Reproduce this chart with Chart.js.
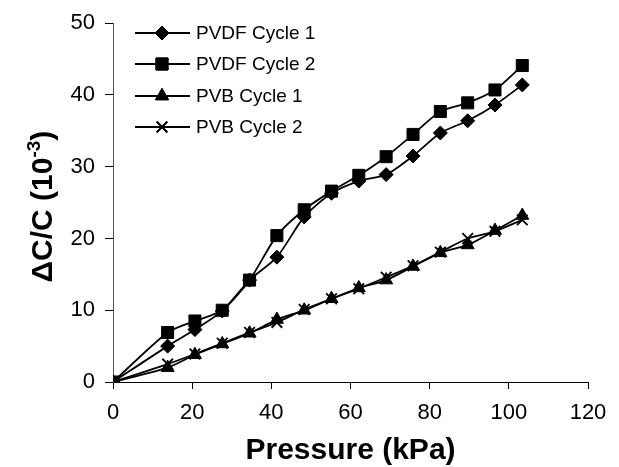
<!DOCTYPE html>
<html>
<head>
<meta charset="utf-8">
<script src="https://cdn.jsdelivr.net/npm/chart.js"></script>
<style>
  html, body { margin: 0; padding: 0; background: #fff; }
  #wrap { width: 619px; height: 467px; }
</style>
</head>
<body>
<div id="wrap"><canvas id="myChart" width="619" height="467"></canvas></div>
<script>
// pressure steps (kPa), 2..15 psi
const pressure = [0, 13.8, 20.7, 27.6, 34.5, 41.4, 48.3, 55.2, 62.1, 69.0, 75.8, 82.7, 89.6, 96.5, 103.4];
const pvdfCycle1 = [0, 5.0, 7.3, 9.9, 14.2, 17.4, 23.0, 26.3, 28.0, 28.9, 31.5, 34.7, 36.4, 38.6, 41.4];
const pvdfCycle2 = [0, 6.9, 8.5, 10.0, 14.2, 20.4, 24.0, 26.6, 28.8, 31.4, 34.5, 37.7, 38.9, 40.7, 44.1];
const pvbCycle1 = [0, 2.0, 3.8, 5.3, 6.8, 8.7, 10.0, 11.6, 13.1, 14.2, 16.1, 18.0, 19.1, 21.1, 23.2];
const pvbCycle2 = [0, 2.5, 3.9, 5.4, 6.9, 8.3, 10.1, 11.6, 13.0, 14.6, 16.2, 18.1, 20.0, 21.0, 22.6];
const seriesNames = ["PVDF Cycle 1", "PVDF Cycle 2", "PVB Cycle 1", "PVB Cycle 2"];
const xTitle = "Pressure (kPa)";
const yTitle = ["\u0394C/C (10", "-3", ")"];

const FONT = "Arial, 'Liberation Sans', sans-serif";

function toPoints(ys) {
	return ys.map((y, i) => ({ x: pressure[i], y: y }));
}

function makeSet(label, ys, style, radius) {
	return {
		label: label,
		data: toPoints(ys),
		borderColor: "#000",
		backgroundColor: "#000",
		borderWidth: 1.8,
		pointStyle: style,
		pointRadius: radius,
		pointBorderWidth: style === "crossRot" ? 1.8 : 1,
		pointBorderColor: "#000",
		pointBackgroundColor: "#000",
		tension: 0.25,
		fill: false
	};
}

// titles + legend drawn by hand (superscript, legend inside the plot)
const extras = {
	id: "extras",
	afterDraw(chart) {
		const ctx = chart.ctx;
		const area = chart.chartArea;
		ctx.save();
		ctx.fillStyle = "#000";

		// x title
		ctx.font = "bold 30px " + FONT;
		ctx.textAlign = "center";
		ctx.textBaseline = "middle";
		ctx.fillText(xTitle, (area.left + area.right) / 2, 451);

		// y title, rotated, with superscript
		ctx.save();
		ctx.translate(41, (area.top + area.bottom) / 2 + 4);
		ctx.rotate(-Math.PI / 2);
		ctx.textAlign = "left";
		ctx.textBaseline = "alphabetic";
		const big = "bold 30px " + FONT, small = "bold 19px " + FONT;
		ctx.font = big;
		const w0 = ctx.measureText(yTitle[0]).width;
		const w2 = ctx.measureText(yTitle[2]).width;
		ctx.font = small;
		const w1 = ctx.measureText(yTitle[1]).width;
		let x = -(w0 + w1 + w2) / 2;
		const base = 11;
		ctx.font = big;
		ctx.fillText(yTitle[0], x, base);
		x += w0;
		ctx.font = small;
		ctx.fillText(yTitle[1], x, base - 12);
		x += w1;
		ctx.font = big;
		ctx.fillText(yTitle[2], x, base);
		ctx.restore();

		// legend
		const rows = [33, 64, 96, 127];
		ctx.font = "19px " + FONT;
		ctx.textAlign = "left";
		ctx.textBaseline = "middle";
		chart.data.datasets.forEach((ds, i) => {
			const y = rows[i];
			ctx.strokeStyle = "#000";
			ctx.lineWidth = 1.8;
			ctx.beginPath();
			ctx.moveTo(135, y);
			ctx.lineTo(190, y);
			ctx.stroke();
			ctx.lineWidth = ds.pointBorderWidth;
			Chart.helpers.drawPoint(ctx, { pointStyle: ds.pointStyle, radius: ds.pointRadius, rotation: 0, borderWidth: ds.pointBorderWidth }, 162, y);
			ctx.fill();
			ctx.stroke();
			ctx.fillText(ds.label, 196, y + 1);
		});
		ctx.restore();
	}
};

const myChart = new Chart(document.getElementById("myChart").getContext("2d"), {
	type: "line",
	data: {
		datasets: [
			makeSet(seriesNames[0], pvdfCycle1, "rectRot", 7),
			makeSet(seriesNames[1], pvdfCycle2, "rect", 8.5),
			makeSet(seriesNames[2], pvbCycle1, "triangle", 7.5),
			makeSet(seriesNames[3], pvbCycle2, "crossRot", 7.5)
		]
	},
	options: {
		responsive: false,
		animation: false,
		layout: { padding: { top: 20, right: 31, left: 0, bottom: 0 } },
		plugins: { legend: { display: false }, tooltip: { enabled: false } },
		scales: {
			x: {
				type: "linear",
				min: 0,
				max: 120,
				ticks: { stepSize: 20, color: "#000", font: { family: FONT, size: 22 }, padding: 11, maxRotation: 0 },
				grid: { drawOnChartArea: false, tickLength: 7, color: "#000" },
				border: { color: "#000", width: 1 },
				afterFit(scale) { scale.height = 85; }
			},
			y: {
				min: 0,
				max: 50,
				ticks: { stepSize: 10, color: "#000", font: { family: FONT, size: 22 }, padding: 10 },
				grid: { drawOnChartArea: false, tickLength: 8, color: "#000" },
				border: { color: "#555", width: 1 },
				afterFit(scale) { scale.width = 113; }
			}
		}
	},
	plugins: [extras]
});
</script>
</body>
</html>
